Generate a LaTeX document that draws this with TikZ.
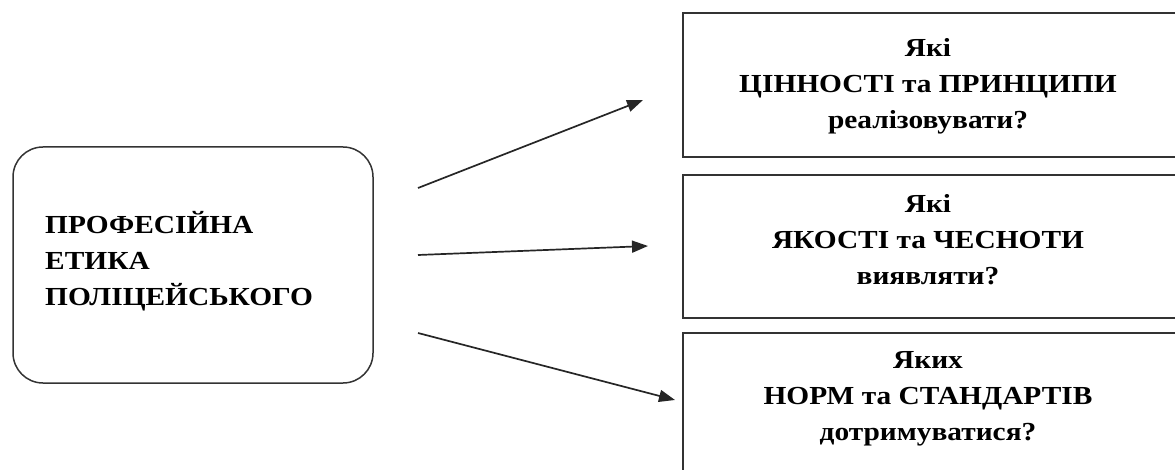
\documentclass[tikz,border=0pt]{standalone}
\usepackage{fontspec}
\setmainfont{Liberation Serif}[FakeStretch=1.13]
\usetikzlibrary{arrows.meta}
\begin{document}
\begin{tikzpicture}[x=1pt,y=-1pt,
  qbox/.style={draw=black!80,line width=1.8pt},
  qtext/.style={font=\fontsize{26}{36}\selectfont\bfseries,align=center,inner sep=0pt},
  arr/.style={draw=black!85,line width=1.7pt,-{Triangle[length=16pt,width=12pt]}}]
\useasboundingbox (0,0) rectangle (1175,470);
\clip (0,0) rectangle (1175,470);
\draw[draw=black!80,line width=1.5pt,rounded corners=30pt] (13,147) rectangle (373,383);
\node[font=\fontsize{26}{36}\selectfont\bfseries,align=left,inner sep=0pt,anchor=west] (main) at (45,261)
  {ПРОФЕСІЙНА\\ЕТИКА\\ПОЛІЦЕЙСЬКОГО};
\draw[qbox] (683,13) rectangle (1190,157);
\draw[qbox] (683,175) rectangle (1190,318);
\draw[qbox] (683,333) rectangle (1190,500);
\node[qtext] (t1) at (928,86) {Які\\ЦІННОСТІ та ПРИНЦИПИ\\реалізовувати?};
\node[qtext] (t2) at (928,240) {Які\\ЯКОСТІ та ЧЕСНОТИ\\виявляти?};
\node[qtext] (t3) at (928,399) {Яких\\НОРМ та СТАНДАРТІВ\\дотримуватися?};
\coordinate (s1) at (418,188);
\coordinate (e1) at (643,100);
\coordinate (s2) at (418,255);
\coordinate (e2) at (648,246);
\coordinate (s3) at (418,333);
\coordinate (e3) at (675,400);
\draw[arr] (s1) -- (e1);
\draw[arr] (s2) -- (e2);
\draw[arr] (s3) -- (e3);
\end{tikzpicture}
\end{document}
